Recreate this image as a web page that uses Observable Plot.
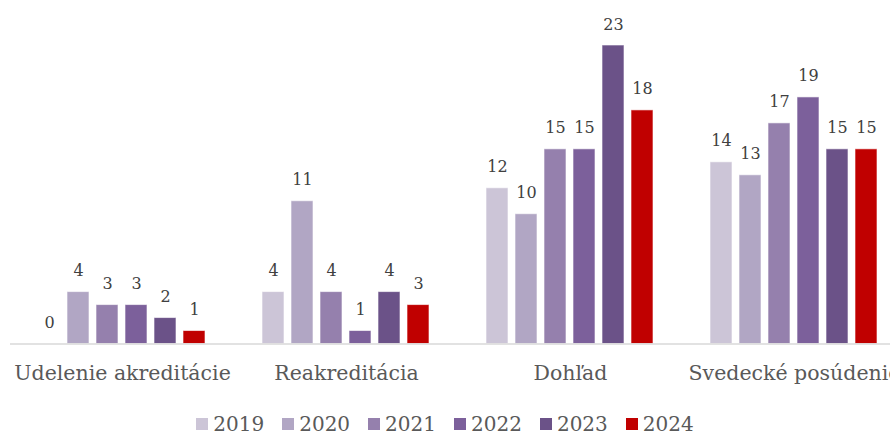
<!DOCTYPE html>
<html>
<head>
<meta charset="utf-8">
<script src="https://cdn.jsdelivr.net/npm/d3@7"></script>
<script src="https://cdn.jsdelivr.net/npm/@observablehq/plot@0.6"></script>
<style>
  html, body { margin: 0; padding: 0; background: #fff; overflow: hidden; width: 890px; height: 434px; }
  #chart svg { max-width: none; display: block; }
  #legend { width: 890px; height: 34px; display: flex; justify-content: center; align-items: flex-start; gap: 18px;
            font-family: "DejaVu Serif", serif; font-size: 20px; color: #595959; line-height: 20px; padding-top: 14px; box-sizing: border-box; }
  #legend .item { display: flex; align-items: center; gap: 5px; }
  #legend .sw { width: 12px; height: 12px; display: inline-block; }
</style>
</head>
<body>
<div id="chart"></div>
<div id="legend"></div>
<script>
const categories = ["Udelenie akreditácie", "Reakreditácia", "Dohľad", "Svedecké posúdenie"];
const years = ["2019", "2020", "2021", "2022", "2023", "2024"];
const values2019 = [0, 4, 12, 14];
const values2020 = [4, 11, 10, 13];
const values2021 = [3, 4, 15, 17];
const values2022 = [3, 1, 15, 19];
const values2023 = [2, 4, 23, 15];
const values2024 = [1, 3, 18, 15];
const colors = ["#ccc5d7", "#b1a6c4", "#9580ad", "#7c609b", "#6b5288", "#c00000"];

const series = [values2019, values2020, values2021, values2022, values2023, values2024];
const data = [];
categories.forEach((c, i) => {
  years.forEach((y, j) => data.push({category: c, year: y, value: series[j][i]}));
});

const font = "DejaVu Serif, serif";
const chart = Plot.plot({
  width: 906,
  height: 400,
  marginLeft: 10,
  marginRight: 0,
  marginTop: 45,
  marginBottom: 56.5,
  style: {fontFamily: font, color: "#595959", background: "#fff", overflow: "visible"},
  fx: {domain: categories, padding: 0, label: null},
  x: {domain: years, paddingInner: 0.2333, paddingOuter: 0.85, axis: null},
  y: {domain: [0, 23], axis: null},
  color: {domain: years, range: colors},
  marks: [
    Plot.barY(data, {fx: "category", x: "year", y: "value", fill: "year", stroke: "#ffffff", strokeOpacity: 0.6, strokeWidth: 1}),
    Plot.ruleY([0], {stroke: "#d9d9d9", strokeWidth: 1.5}),
    Plot.text(data, {fx: "category", x: "year", y: "value", text: d => String(d.value), lineAnchor: "bottom", dy: -16, fontSize: 16, fill: "#404040"}),
    Plot.axisFx({anchor: "bottom", tickSize: 0, tickPadding: 21, fontSize: 20.5, label: null, fill: "#595959"})
  ]
});
document.getElementById("chart").appendChild(chart);

const legend = document.getElementById("legend");
years.forEach((y, i) => {
  const item = document.createElement("span");
  item.className = "item";
  const sw = document.createElement("span");
  sw.className = "sw";
  sw.style.background = colors[i];
  const t = document.createElement("span");
  t.textContent = y;
  item.appendChild(sw);
  item.appendChild(t);
  legend.appendChild(item);
});
</script>
</body>
</html>
